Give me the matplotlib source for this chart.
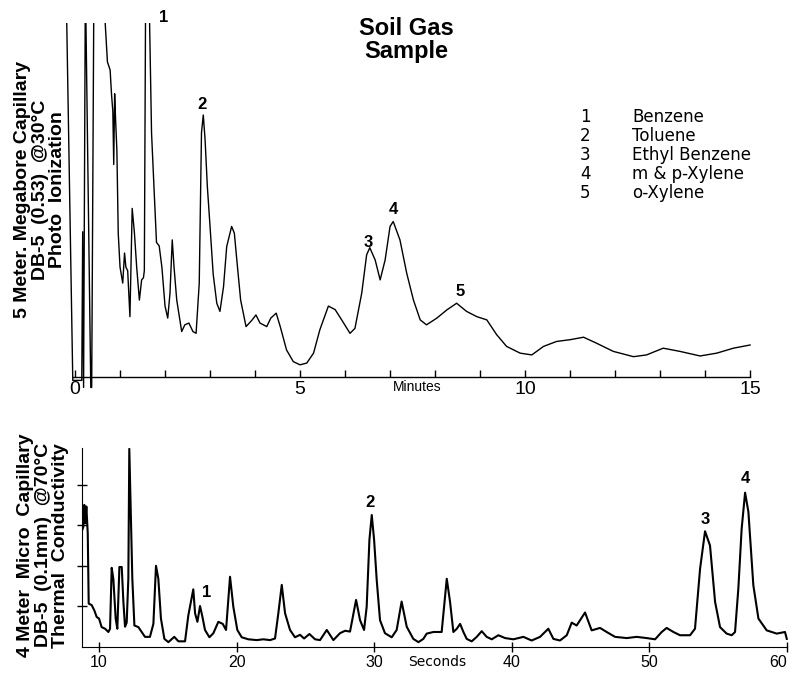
import matplotlib.pyplot as plt
from matplotlib.ticker import MultipleLocator

plt.rcParams['font.family'] = ['Liberation Sans', 'DejaVu Sans']

# === Data ===
# 5 m megabore column, photo ionization (minutes, response; 100 = top of chart)
pid_min = [-0.20, -0.05, 0.15, 0.17, 0.19, 0.23, 0.35, 0.37, 0.42, 0.64, 0.67, 0.72, 0.78, 0.81,
           0.84, 0.86, 0.88, 0.90, 0.93, 0.96, 1.00, 1.06, 1.10, 1.13, 1.17, 1.22, 1.27, 1.32,
           1.37, 1.43, 1.48, 1.52, 1.54, 1.57, 1.64, 1.70, 1.76, 1.81, 1.87, 1.93, 2.00, 2.06,
           2.11, 2.16, 2.20, 2.26, 2.37, 2.44, 2.53, 2.62, 2.69, 2.76, 2.81, 2.85, 2.89, 2.94,
           3.00, 3.07, 3.15, 3.22, 3.30, 3.37, 3.48, 3.54, 3.61, 3.68, 3.80, 3.93, 4.02, 4.11,
           4.26, 4.35, 4.47, 4.56, 4.70, 4.85, 5.00, 5.15, 5.30, 5.44, 5.63, 5.78, 5.93, 6.11,
           6.22, 6.37, 6.48, 6.55, 6.67, 6.78, 6.89, 7.00, 7.07, 7.22, 7.37, 7.52, 7.67, 7.81,
           8.04, 8.26, 8.48, 8.70, 8.93, 9.15, 9.37, 9.59, 9.89, 10.15, 10.41, 10.70, 11.00,
           11.30, 11.59, 11.96, 12.41, 12.70, 13.07, 13.44, 13.89, 14.26, 14.63, 15.00]
pid_resp = [112, -1, -1, 41, -3, 112, -3, -3, 112, 112, 100, 89, 86.7, 80,
            75, 60, 80, 73, 64, 40.6, 31, 26.5, 35, 31, 30, 17, 47.6, 40.6,
            31, 21.7, 27.4, 28, 30, 112, 112, 69, 52, 38, 37, 31, 20, 16.6,
            23.6, 38.7, 31, 21.7, 12.8, 14.7, 15.2, 12.8, 12.3, 26.5, 69, 74, 67, 53.8,
            42.5, 29, 20.8, 18.5, 25.5, 36.8, 42.5, 40.6, 31, 21.7, 14.2, 16, 17.5, 15.2,
            14.2, 16.6, 18, 14.2, 7.6, 4.3, 3.4, 3.9, 6.7, 13.3, 20, 19, 16, 12.3,
            13.7, 23.6, 34.5, 36.5, 33, 27.4, 33, 42.5, 43.9, 38.7, 29.3, 21.7, 16.1, 14.7,
            16.6, 18.9, 20.8, 18.5, 17, 16.1, 11.9, 8.6, 6.7, 6.2, 8.6, 10, 10.5,
            11.2, 9.5, 7.2, 5.7, 6.2, 8.1, 7.2, 5.9, 6.7, 8.1, 9]

# 4 m micro capillary, thermal conductivity (seconds, response)
tcd_sec = [8.80, 8.86, 8.93, 9.00, 9.08, 9.18, 9.25, 9.47, 9.66, 9.83, 10.00, 10.19, 10.44,
           10.68, 10.80, 10.92, 11.04, 11.21, 11.33, 11.48, 11.65, 11.77, 11.89, 12.01, 12.13,
           12.20, 12.30, 12.42, 12.57, 12.86, 13.10, 13.34, 13.70, 13.95, 14.14, 14.31, 14.50,
           14.75, 15.04, 15.47, 15.77, 16.25, 16.49, 16.85, 16.98, 17.15, 17.34, 17.51, 17.70,
           18.02, 18.31, 18.67, 18.99, 19.23, 19.52, 19.76, 20.05, 20.37, 20.85, 21.46, 21.94,
           22.43, 22.79, 23.03, 23.28, 23.52, 23.88, 24.24, 24.61, 24.90, 25.29, 25.70, 26.06,
           26.55, 27.03, 27.51, 27.88, 28.24, 28.68, 28.97, 29.26, 29.45, 29.65, 29.82, 29.99,
           30.18, 30.42, 30.78, 31.27, 31.63, 31.99, 32.36, 32.84, 33.21, 33.57, 33.81, 34.30,
           34.90, 35.27, 35.51, 35.75, 36.00, 36.24, 36.48, 36.72, 37.08, 37.45, 37.81, 38.17,
           38.54, 39.02, 39.51, 40.11, 40.84, 41.44, 42.05, 42.65, 43.02, 43.50, 43.99, 44.35,
           44.71, 45.32, 45.80, 46.41, 46.89, 47.50, 48.35, 49.07, 49.80, 50.41, 50.89, 51.25,
           51.74, 52.22, 52.95, 53.31, 53.68, 54.04, 54.40, 54.77, 55.13, 55.61, 55.98, 56.22,
           56.46, 56.70, 56.95, 57.19, 57.55, 57.92, 58.52, 59.25, 59.85, 59.98]
tcd_resp = [2.9, 2.96, 3.5, 3.05, 3.46, 2.8, 1.07, 1.03, 0.9, 0.74, 0.7, 0.49, 0.45,
            0.37, 0.45, 1.95, 1.68, 0.7, 0.45, 1.97, 1.97, 1.11, 0.5, 0.6, 1.68,
            4.88, 3.46, 1.68, 0.53, 0.49, 0.37, 0.25, 0.25, 0.57, 2.0, 1.68, 0.7,
            0.2, 0.12, 0.25, 0.14, 0.14, 0.78, 1.42, 0.83, 0.62, 1.01, 0.75, 0.42,
            0.24, 0.34, 0.62, 0.57, 0.42, 1.73, 0.99, 0.42, 0.24, 0.19, 0.17, 0.19,
            0.17, 0.21, 0.83, 1.53, 0.83, 0.42, 0.24, 0.3, 0.21, 0.32, 0.19, 0.17,
            0.42, 0.17, 0.34, 0.4, 0.38, 1.16, 0.66, 0.42, 0.99, 2.64, 3.25, 2.64,
            1.65, 0.66, 0.34, 0.24, 0.42, 1.12, 0.5, 0.2, 0.12, 0.2, 0.33, 0.37,
            0.37, 1.68, 1.11, 0.37, 0.45, 0.57, 0.37, 0.2, 0.14, 0.25, 0.39, 0.25,
            0.19, 0.29, 0.22, 0.19, 0.25, 0.16, 0.25, 0.45, 0.2, 0.16, 0.29, 0.6,
            0.53, 0.85, 0.41, 0.47, 0.37, 0.25, 0.22, 0.25, 0.22, 0.19, 0.37, 0.47,
            0.37, 0.29, 0.29, 0.45, 1.93, 2.85, 2.5, 1.11, 0.49, 0.33, 0.29, 0.37,
            1.44, 2.91, 3.8, 3.33, 1.52, 0.7, 0.41, 0.33, 0.37, 0.2]

# peak numbers and where they are written
pid_peaks = ['1', '2', '3', '4', '5']
pid_peak_x = [1.96, 2.82, 6.51, 7.07, 8.56]
pid_peak_y = [101.5, 77, 38, 47.2, 24]
tcd_peaks = ['1', '2', '3', '4']
tcd_peak_x = [17.85, 29.7, 54.04, 56.95]
tcd_peak_y = [1.35, 3.55, 3.15, 4.15]

legend_nums = ['1', '2', '3', '4', '5']
legend_names = ['Benzene', 'Toluene', 'Ethyl Benzene', 'm & p-Xylene', 'o-Xylene']

WIDE = ['DejaVu Sans']  # the scanned lettering is spaced wider than Helvetica

# === Figure ===
fig = plt.figure(figsize=(7.95, 6.78), dpi=100)

# --- top chromatogram ---
ax1 = fig.add_axes([0.0774, 0.4233, 0.8774, 0.5428])
ax1.plot(pid_min, pid_resp, color='black', lw=1.0)
ax1.set_xlim(-0.3, 15.2)
ax1.set_ylim(-4, 100)
for s in ['left', 'right', 'top']:
    ax1.spines[s].set_visible(False)
ax1.spines['bottom'].set_position(('data', 0))
ax1.spines['bottom'].set_bounds(-0.05, 15)
ax1.spines['bottom'].set_linewidth(1.0)
ax1.set_yticks([])
ax1.set_xticks([0, 5, 10, 15])
ax1.xaxis.set_minor_locator(MultipleLocator(1))
ax1.tick_params(axis='x', which='both', direction='in', length=5, width=1.0, labelsize=14, pad=3)
ax1.text(7.6, -1.0, 'Minutes', fontsize=10, ha='center', va='top')
for lab, x, y in zip(pid_peaks, pid_peak_x, pid_peak_y):
    ax1.text(x, y, lab, fontsize=12, fontweight='bold', ha='center', va='center', clip_on=False)

# --- bottom chromatogram ---
ax2 = fig.add_axes([0.1031, 0.0457, 0.8921, 0.2935])
ax2.plot(tcd_sec, tcd_resp, color='black', lw=1.5)
ax2.set_xlim(8.76, 60.3)
ax2.set_ylim(0, 4.9)
ax2.spines['right'].set_visible(False)
ax2.spines['top'].set_visible(False)
ax2.spines['bottom'].set_bounds(8.76, 60)
ax2.set_xticks([10, 20, 30, 40, 50, 60])
ax2.set_yticks([1, 2, 3, 4])
ax2.set_yticklabels([])
ax2.tick_params(axis='both', direction='inout', length=7, width=1.0, labelsize=11.5, pad=2)
ax2.get_xticklabels()[-1].set_horizontalalignment('right')
ax2.get_xticklabels()[-1].set_x(60.6)
ax2.text(34.6, -0.2, 'Seconds', fontsize=10, family=WIDE, ha='center', va='top')
for lab, x, y in zip(tcd_peaks, tcd_peak_x, tcd_peak_y):
    ax2.text(x, y, lab, fontsize=12, fontweight='bold', ha='center', va='center')

# --- titles, axis labels, legend ---
fig.text(0.511, 0.941, 'Soil Gas\nSample', fontsize=17, fontweight='bold',
         ha='center', va='center', linespacing=0.95)
fig.text(0.0505, 0.72, '5 Meter. Megabore Capillary\nDB-5  (0.53)  @30°C\nPhoto  Ionization',
         rotation=90, fontsize=14, fontweight='bold', ha='center', va='center',
         multialignment='center', linespacing=1.03)
fig.text(0.0545, 0.196, '4 Meter  Micro  Capillary\nDB-5  (0.1mm)  @70°C\nThermal  Conductivity',
         rotation=90, fontsize=14, fontweight='bold', ha='center', va='center',
         multialignment='center', linespacing=1.03)

for i, (num, name) in enumerate(zip(legend_nums, legend_names)):
    yy = 1 - (117 + 19 * i) / 678
    fig.text(0.736, yy, num, fontsize=12, family=WIDE, ha='center', va='center')
    fig.text(0.795, yy, name, fontsize=12, family=WIDE, ha='left', va='center')

fig.savefig('out.png', dpi=100, facecolor='white')
